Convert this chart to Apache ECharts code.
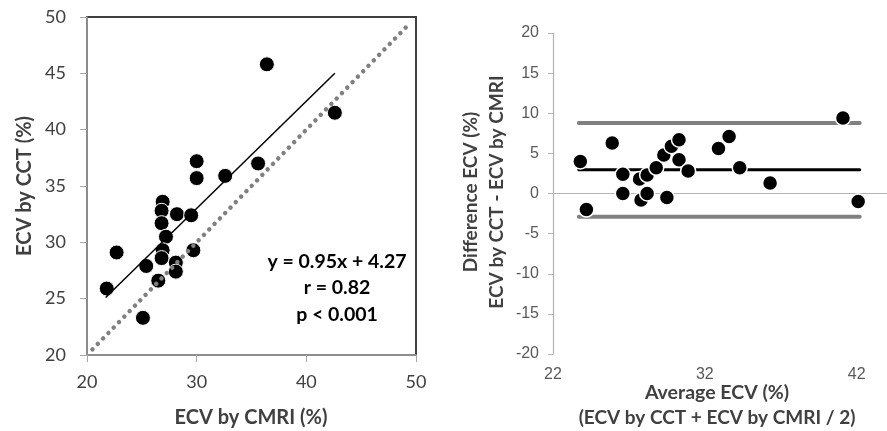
<!DOCTYPE html>
<html>
<head>
<meta charset="UTF-8">
<title>ECV CCT vs CMRI</title>
<script src="https://cdn.jsdelivr.net/npm/echarts@6/dist/echarts.min.js"></script>
<style>
    html, body {margin: 0; padding: 0; background: #fff;}
    #chart {width: 887px; height: 431px;}
</style>
</head>
<body>
<div id="chart"></div>
<script>
    // left panel: correlation
    var cmri = [36.4, 42.6, 30.0, 30.0, 32.6, 35.6, 26.9, 26.8, 28.2, 29.5, 26.8, 27.2,
                26.9, 26.8, 22.7, 25.4, 21.8, 26.5, 25.1, 28.1, 28.1, 29.7];
    var cct = [45.8, 41.5, 37.2, 35.7, 35.9, 37.0, 33.6, 32.8, 32.5, 32.4, 31.7, 30.5,
               29.3, 28.6, 29.1, 27.9, 25.9, 26.6, 23.3, 28.2, 27.4, 29.3];
    var regLine = [[21.7, 25.1], [42.6, 45.0]];
    var identityLine = [[20.5, 20.5], [49.5, 49.5]];
    var statLines = ['y = 0.95x + 4.27', 'r = 0.82', 'p < 0.001'];

    // right panel: Bland-Altman
    var avgEcv = [23.8, 24.2, 25.9, 26.6, 26.6, 27.7, 27.8, 28.2, 28.2, 28.8, 29.3, 29.8,
                  30.3, 30.3, 29.5, 30.9, 32.9, 33.6, 34.3, 36.3, 41.1, 42.1];
    var diffEcv = [4.0, -2.0, 6.3, 2.4, 0.0, 1.8, -0.8, 2.3, 0.0, 3.2, 4.8, 5.9,
                   6.7, 4.2, -0.5, 2.8, 5.6, 7.1, 3.2, 1.3, 9.4, -1.0];
    var limitX = [23.7, 42.2];
    var meanDiff = 2.95;
    var upperLoa = 8.8;
    var lowerLoa = -2.9;
    var rightXLabels = [22, 32, 42];

    var pairs = [];
    for (var i = 0; i < cmri.length; i++) pairs.push([cmri[i], cct[i]]);
    var baPairs = [];
    for (var j = 0; j < avgEcv.length; j++) baPairs.push([avgEcv[j], diffEcv[j]]);
    function hline(y) { return [[limitX[0], y], [limitX[1], y]]; }

    var titleFont = 'Lato, "Open Sans", sans-serif';
    var tickFont = '"Liberation Sans", Arial, sans-serif';

    var chart = echarts.init(document.getElementById('chart'));
    chart.setOption({
        animation: false,
        grid: [
            {left: 87, right: 471, top: 17, bottom: 76, show: true, outerBoundsMode: 'none',
             borderColor: '#404040', borderWidth: 2, backgroundColor: 'transparent'},
            {left: 553, right: 0, top: 33, bottom: 77, outerBoundsMode: 'none'}
        ],
        xAxis: [
            {gridIndex: 0, type: 'value', min: 20, max: 50, interval: 10,
             axisLine: {onZero: false, lineStyle: {color: '#a6a6a6', width: 1.5}},
             axisTick: {show: true, length: 7, lineStyle: {color: '#a6a6a6'}},
             axisLabel: {color: '#404040', fontSize: 18, fontFamily: titleFont, margin: 18},
             splitLine: {show: false}},
            {gridIndex: 1, type: 'value', min: 22, max: 44, interval: 2,
             axisLine: {onZero: true, lineStyle: {color: '#b4b4b4', width: 1.2}},
             axisTick: {show: false},
             // label position follows the grid's bottom edge, not the zero line
             axisLabel: {color: '#595959', fontSize: 16, fontFamily: tickFont, margin: 13,
                 hideOverlap: false,
                 formatter: function (v) { return rightXLabels.indexOf(v) >= 0 ? String(v) : ''; }},
             splitLine: {show: false}}
        ],
        yAxis: [
            {gridIndex: 0, type: 'value', min: 20, max: 50, interval: 5,
             axisLine: {show: true, onZero: false, lineStyle: {color: '#a6a6a6', width: 1.5}},
             axisTick: {show: true, length: 7, lineStyle: {color: '#a6a6a6'}},
             axisLabel: {color: '#404040', fontSize: 18, fontFamily: titleFont, margin: 21},
             splitLine: {show: false}},
            {gridIndex: 1, type: 'value', min: -20, max: 20, interval: 5,
             axisLine: {show: true, onZero: false, lineStyle: {color: '#b4b4b4', width: 1.2}},
             axisTick: {show: true, length: 5, lineStyle: {color: '#b4b4b4'}},
             axisLabel: {color: '#595959', fontSize: 16, fontFamily: tickFont, margin: 14},
             splitLine: {show: false}}
        ],
        series: [
            {type: 'scatter', xAxisIndex: 0, yAxisIndex: 0, data: pairs, symbolSize: 15,
             itemStyle: {color: '#000', opacity: 1, borderColor: '#fff', borderWidth: 1}},
            {type: 'line', xAxisIndex: 0, yAxisIndex: 0, data: regLine, showSymbol: false,
             symbol: 'none', lineStyle: {color: '#000', width: 1.5}},
            {type: 'line', xAxisIndex: 0, yAxisIndex: 0, data: identityLine, symbol: 'none',
             lineStyle: {color: '#808080', width: 4.5, type: [0.01, 7.6], cap: 'round'}},

            {type: 'line', xAxisIndex: 1, yAxisIndex: 1, data: hline(upperLoa), symbol: 'none',
             lineStyle: {color: '#808080', width: 4, cap: 'round'}},
            {type: 'line', xAxisIndex: 1, yAxisIndex: 1, data: hline(lowerLoa), symbol: 'none',
             lineStyle: {color: '#808080', width: 4, cap: 'round'}},
            {type: 'line', xAxisIndex: 1, yAxisIndex: 1, data: hline(meanDiff), symbol: 'none',
             lineStyle: {color: '#000', width: 3, cap: 'round'}},
            {type: 'scatter', xAxisIndex: 1, yAxisIndex: 1, data: baPairs, symbolSize: 15, z: 5,
             itemStyle: {color: '#000', opacity: 1, borderColor: '#fff', borderWidth: 1.5}}
        ],
        graphic: [
            {type: 'text', x: 25, y: 186, rotation: Math.PI / 2,
             style: {text: 'ECV by CCT (%)', font: 'bold 20px ' + titleFont, fill: '#404040',
                     align: 'center', verticalAlign: 'middle'}},
            {type: 'text', x: 251, y: 418,
             style: {text: 'ECV by CMRI (%)', font: 'bold 20px ' + titleFont, fill: '#404040',
                     align: 'center', verticalAlign: 'middle'}},
            {type: 'text', x: 337, y: 288,
             style: {text: statLines.join('\n'), font: 'bold 19.5px ' + titleFont, fill: '#000',
                     align: 'center', verticalAlign: 'middle', lineHeight: 26.5}},
            {type: 'text', x: 471, y: 192, rotation: Math.PI / 2,
             style: {text: 'Difference ECV (%)', font: 'bold 19px ' + titleFont, fill: '#404040',
                     align: 'center', verticalAlign: 'middle'}},
            {type: 'text', x: 497, y: 192, rotation: Math.PI / 2,
             style: {text: 'ECV by CCT - ECV by CMRI', font: 'bold 19px ' + titleFont, fill: '#404040',
                     align: 'center', verticalAlign: 'middle'}},
            {type: 'text', x: 717, y: 393,
             style: {text: 'Average ECV (%)', font: 'bold 19.5px ' + titleFont, fill: '#404040',
                     align: 'center', verticalAlign: 'middle'}},
            {type: 'text', x: 717, y: 418,
             style: {text: '(ECV by CCT + ECV by CMRI / 2)', font: 'bold 19px ' + titleFont, fill: '#404040',
                     align: 'center', verticalAlign: 'middle'}}
        ]
    });
</script>
</body>
</html>
